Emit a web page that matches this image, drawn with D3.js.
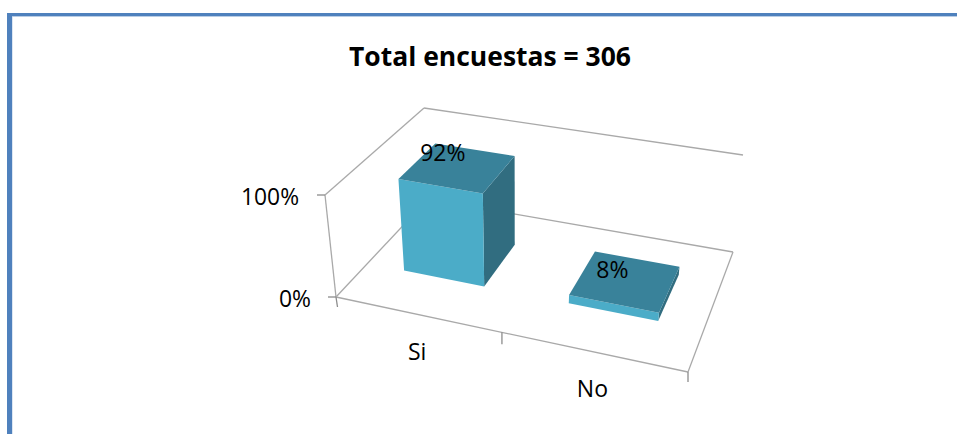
<!DOCTYPE html>
<html><head><meta charset="utf-8">
<script src="https://cdn.jsdelivr.net/npm/d3@7"></script>
<style>html,body{margin:0;padding:0;background:#fff}svg{display:block}text{font-family:"Open Sans","Noto Sans",sans-serif;fill:#000}</style>
</head><body><svg id="c" width="957" height="434"></svg>
<script>
const categories = ["Si", "No"];
const values = [0.92, 0.08];
const valueLabels = ["92%", "8%"];
const yTicks = [0, 1];
const yTickLabels = ["0%", "100%"];
const titleText = "Total encuestas = 306";

const svg = d3.select("#c");
const W = 957, H = 434;

// plane corners of the 3D box as seen on screen: FL, FR, BR, BL
const floorQuad = [[336,297],[688,372],[733,252],[428,199]];
const ceilQuad  = [[325,195],[702,264],[743,155],[424,108]];

function homography(q){
  const [[x0,y0],[x1,y1],[x2,y2],[x3,y3]] = q;
  const dx1=x1-x2, dx2=x3-x2, sx=x0-x1+x2-x3, dy1=y1-y2, dy2=y3-y2, sy=y0-y1+y2-y3;
  const den=dx1*dy2-dx2*dy1;
  const g=(sx*dy2-dx2*sy)/den, h=(dx1*sy-sx*dy1)/den;
  const a=x1-x0+g*x1, b=x3-x0+h*x3, c=x0, d=y1-y0+g*y1, e=y3-y0+h*y3, f=y0;
  return (u,v)=>{const w=g*u+h*v+1;return [(a*u+b*v+c)/w,(d*u+e*v+f)/w];};
}
const floorH = homography(floorQuad), ceilH = homography(ceilQuad);
const y = d3.scaleLinear().domain([0,1]).range([0,1]);
const x = d3.scaleBand().domain(categories).range([-0.002,0.998]).paddingInner(0.5).paddingOuter(0.24);
const depth = [0.31,0.71];
function P(u,d,val){
  const a=floorH(u,d), b=ceilH(u,d), t=y(val);
  return [a[0]+(b[0]-a[0])*t, a[1]+(b[1]-a[1])*t];
}
const poly = pts => "M"+pts.map(p=>p[0]+","+p[1]).join("L")+"Z";
const seg = (p,q)=>"M"+p+"L"+q;

// frame
svg.append("rect").attr("x",7).attr("y",13).attr("width",W-7).attr("height",3).attr("fill","#4f81bd");
svg.append("rect").attr("x",7).attr("y",13).attr("width",5).attr("height",H-13).attr("fill","#4f81bd");
svg.append("rect").attr("x",12).attr("y",16).attr("width",W-12).attr("height",1).attr("fill","#b9cde5");
svg.append("rect").attr("x",12).attr("y",17).attr("width",1).attr("height",H-17).attr("fill","#dce6f2");

svg.append("text").attr("x",490).attr("y",66).attr("text-anchor","middle")
  .attr("font-size",27).attr("font-weight",700).attr("textLength",282).attr("lengthAdjust","spacingAndGlyphs").text(titleText);

// walls and floor lines
const grid = svg.append("g").attr("fill","none").attr("stroke","#a9a9a9").attr("stroke-width",1.3);
[[[0,0,0],[0,0,1]],[[0,0,1],[0,1,1]],[[0,1,1],[1,1,1]],[[0,0,0],[0,1,0]],[[0,1,0],[1,1,0]],[[1,1,0],[1,0,0]],[[1,0,0],[0,0,0]]]
 .forEach(([a,b])=>grid.append("path").attr("d",seg(P(...a),P(...b))));

// axis ticks
const ticks = svg.append("g").attr("fill","none").attr("stroke","#8c8c8c").attr("stroke-width",1.3);
yTicks.forEach((t,i)=>{
  const p=P(0,0,t);
  ticks.append("path").attr("d",seg([p[0]-8,p[1]],p));
  svg.append("text").attr("x",p[0]-(t?26:25)).attr("y",p[1]+10).attr("text-anchor","end").attr("font-size",23).attr("textLength",t?58:32).attr("lengthAdjust","spacingAndGlyphs").text(yTickLabels[i]);
});
[0,0.5,1].forEach(u=>{
  const p=P(u,0,0);
  ticks.append("path").attr("d",seg(p,[p[0]+(u?0:1.5),p[1]+(u===0.5?12:10)]));
});

// bars
categories.forEach((c,i)=>{
  const u0=x(c), u1=u0+x.bandwidth(), d0=depth[0], d1=depth[1], v=values[i];
  const g=svg.append("g");
  g.append("path").attr("fill","#316d80").attr("d",poly([P(u1,d0,0),P(u1,d1,0),P(u1,d1,v),P(u1,d0,v)]));
  g.append("path").attr("fill","#4bacc8").attr("d",poly([P(u0,d0,0),P(u1,d0,0),P(u1,d0,v),P(u0,d0,v)]));
  g.append("path").attr("fill","#39829a").attr("d",poly([P(u0,d0,v),P(u1,d0,v),P(u1,d1,v),P(u0,d1,v)]));
  const tc=P((u0+u1)/2,(d0+d1)/2,v);
  svg.append("text").attr("x",tc[0]-(i?13:15)).attr("y",tc[1]-(i?3:6)).attr("text-anchor","middle").attr("font-size",23).text(valueLabels[i]);
  const fc=P(u0+x.bandwidth()/2,0,0);
  svg.append("text").attr("x",fc[0]+(i?0:2)).attr("y",fc[1]+(i?45:46)).attr("text-anchor","middle").attr("font-size",23).text(c);
});
</script></body></html>
